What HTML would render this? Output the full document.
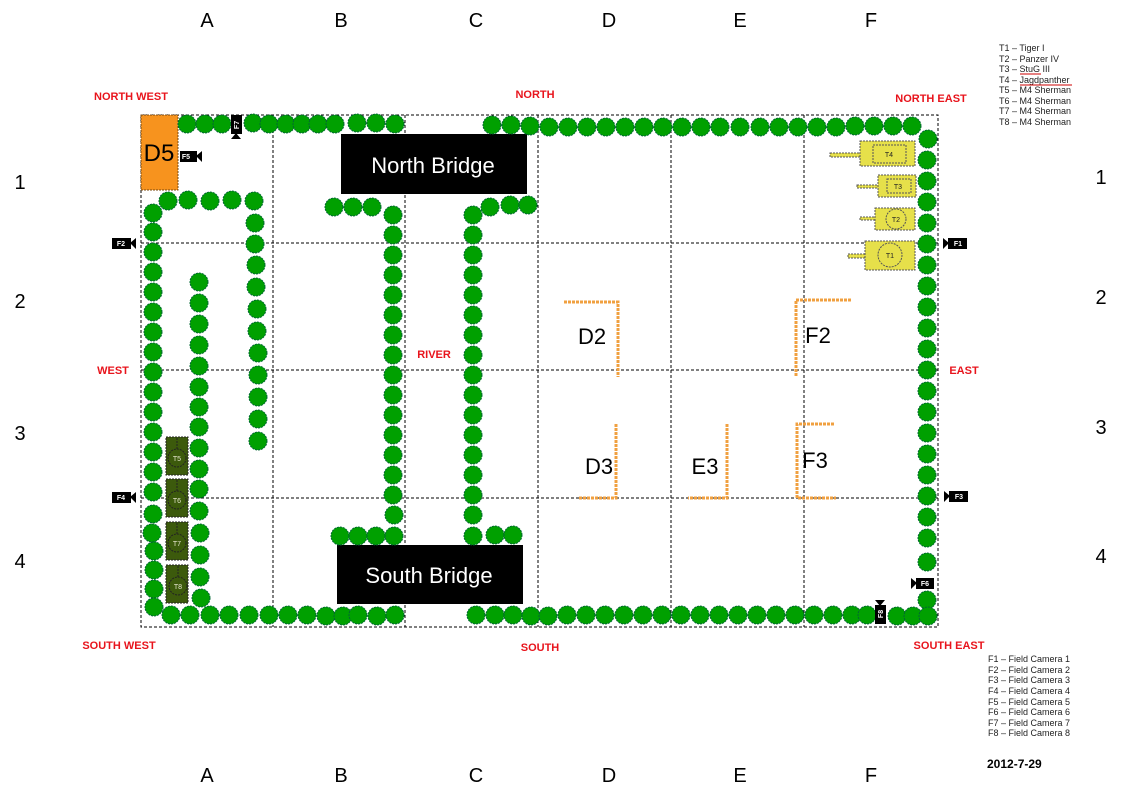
<!DOCTYPE html>
<html><head><meta charset="utf-8"><style>
html,body{margin:0;padding:0;background:#fff;}
svg{display:block;font-family:"Liberation Sans",sans-serif;}
.t{fill:#00a000;stroke:#063;stroke-width:1;stroke-dasharray:2 1;}
.g{stroke:#000;stroke-width:1;stroke-dasharray:3 2;fill:none;}
.r{fill:#e8141c;font-size:11px;font-weight:bold;text-anchor:middle;}
.w{stroke:#f0a040;stroke-width:3;fill:none;stroke-dasharray:3 1;}
.lab{font-size:20px;text-anchor:middle;fill:#000;}
.cam{fill:#000;}
.ct{fill:#fff;font-size:7px;font-weight:bold;text-anchor:middle;}
.lg{font-size:9px;fill:#222;}
</style></head><body>
<svg width="1123" height="794" viewBox="0 0 1123 794" xmlns="http://www.w3.org/2000/svg">
<rect class="g" x="141" y="115" width="797" height="512"/>
<line class="g" x1="273" y1="115" x2="273" y2="627"/>
<line class="g" x1="405" y1="115" x2="405" y2="627"/>
<line class="g" x1="538" y1="115" x2="538" y2="627"/>
<line class="g" x1="671" y1="115" x2="671" y2="627"/>
<line class="g" x1="804" y1="115" x2="804" y2="627"/>
<line class="g" x1="141" y1="243" x2="938" y2="243"/>
<line class="g" x1="141" y1="370" x2="938" y2="370"/>
<line class="g" x1="141" y1="498" x2="938" y2="498"/>

<g class="lab">
<text x="207" y="27">A</text><text x="341" y="27">B</text><text x="476" y="27">C</text><text x="609" y="27">D</text><text x="740" y="27">E</text><text x="871" y="27">F</text>
<text x="207" y="782">A</text><text x="341" y="782">B</text><text x="476" y="782">C</text><text x="609" y="782">D</text><text x="740" y="782">E</text><text x="871" y="782">F</text>
<text x="20" y="189">1</text><text x="20" y="308">2</text><text x="20" y="440">3</text><text x="20" y="568">4</text>
<text x="1101" y="184">1</text><text x="1101" y="304">2</text><text x="1101" y="434">3</text><text x="1101" y="563">4</text>
</g>

<text class="r" x="131" y="100">NORTH WEST</text>
<text class="r" x="535" y="98">NORTH</text>
<text class="r" x="931" y="102">NORTH EAST</text>
<text class="r" x="113" y="374">WEST</text>
<text class="r" x="434" y="358">RIVER</text>
<text class="r" x="964" y="374">EAST</text>
<text class="r" x="119" y="649">SOUTH WEST</text>
<text class="r" x="540" y="651">SOUTH</text>
<text class="r" x="949" y="649">SOUTH EAST</text>

<rect x="141" y="115" width="37" height="75" fill="#f7931e" stroke="#7a4a10" stroke-dasharray="2 1"/>
<text x="159" y="161" font-size="24" text-anchor="middle">D5</text>

<rect x="341" y="134" width="186" height="60" fill="#000"/>
<text x="433" y="173" fill="#fff" font-size="22" text-anchor="middle">North Bridge</text>
<rect x="337" y="545" width="186" height="59" fill="#000"/>
<text x="429" y="583" fill="#fff" font-size="22" text-anchor="middle">South Bridge</text>

<g class="t">
<circle cx="187" cy="124" r="9"/><circle cx="205" cy="124" r="9"/><circle cx="222" cy="124" r="9"/>
<circle cx="253" cy="123" r="9"/><circle cx="269" cy="124" r="9"/><circle cx="286" cy="124" r="9"/><circle cx="302" cy="124" r="9"/><circle cx="318" cy="124" r="9"/><circle cx="335" cy="124" r="9"/><circle cx="357" cy="123" r="9"/><circle cx="376" cy="123" r="9"/><circle cx="395" cy="124" r="9"/>
<circle cx="492" cy="125" r="9"/><circle cx="511" cy="125" r="9"/><circle cx="530" cy="126" r="9"/><circle cx="549" cy="127" r="9"/><circle cx="568" cy="127" r="9"/><circle cx="587" cy="127" r="9"/><circle cx="606" cy="127" r="9"/><circle cx="625" cy="127" r="9"/><circle cx="644" cy="127" r="9"/><circle cx="663" cy="127" r="9"/><circle cx="682" cy="127" r="9"/><circle cx="701" cy="127" r="9"/><circle cx="720" cy="127" r="9"/><circle cx="740" cy="127" r="9"/><circle cx="760" cy="127" r="9"/><circle cx="779" cy="127" r="9"/><circle cx="798" cy="127" r="9"/><circle cx="817" cy="127" r="9"/><circle cx="836" cy="127" r="9"/><circle cx="855" cy="126" r="9"/><circle cx="874" cy="126" r="9"/><circle cx="893" cy="126" r="9"/><circle cx="912" cy="126" r="9"/>
<circle cx="928" cy="139" r="9"/><circle cx="927" cy="160" r="9"/><circle cx="927" cy="181" r="9"/><circle cx="927" cy="202" r="9"/><circle cx="927" cy="223" r="9"/><circle cx="927" cy="244" r="9"/><circle cx="927" cy="265" r="9"/><circle cx="927" cy="286" r="9"/><circle cx="927" cy="307" r="9"/><circle cx="927" cy="328" r="9"/><circle cx="927" cy="349" r="9"/><circle cx="927" cy="370" r="9"/><circle cx="927" cy="391" r="9"/><circle cx="927" cy="412" r="9"/><circle cx="927" cy="433" r="9"/><circle cx="927" cy="454" r="9"/><circle cx="927" cy="475" r="9"/><circle cx="927" cy="496" r="9"/><circle cx="927" cy="517" r="9"/><circle cx="927" cy="538" r="9"/><circle cx="927" cy="562" r="9"/><circle cx="927" cy="600" r="9"/>
<circle cx="171" cy="615" r="9"/><circle cx="190" cy="615" r="9"/><circle cx="210" cy="615" r="9"/><circle cx="229" cy="615" r="9"/><circle cx="249" cy="615" r="9"/><circle cx="269" cy="615" r="9"/><circle cx="288" cy="615" r="9"/><circle cx="307" cy="615" r="9"/><circle cx="326" cy="616" r="9"/><circle cx="343" cy="616" r="9"/><circle cx="358" cy="615" r="9"/><circle cx="377" cy="616" r="9"/><circle cx="395" cy="615" r="9"/>
<circle cx="476" cy="615" r="9"/><circle cx="495" cy="615" r="9"/><circle cx="513" cy="615" r="9"/><circle cx="531" cy="616" r="9"/><circle cx="548" cy="616" r="9"/><circle cx="567" cy="615" r="9"/><circle cx="586" cy="615" r="9"/><circle cx="605" cy="615" r="9"/><circle cx="624" cy="615" r="9"/><circle cx="643" cy="615" r="9"/><circle cx="662" cy="615" r="9"/><circle cx="681" cy="615" r="9"/><circle cx="700" cy="615" r="9"/><circle cx="719" cy="615" r="9"/><circle cx="738" cy="615" r="9"/><circle cx="757" cy="615" r="9"/><circle cx="776" cy="615" r="9"/><circle cx="795" cy="615" r="9"/><circle cx="814" cy="615" r="9"/><circle cx="833" cy="615" r="9"/><circle cx="852" cy="615" r="9"/><circle cx="867" cy="615" r="9"/><circle cx="897" cy="616" r="9"/><circle cx="913" cy="616" r="9"/><circle cx="928" cy="616" r="9"/>
<circle cx="153" cy="213" r="9"/><circle cx="153" cy="232" r="9"/><circle cx="153" cy="252" r="9"/><circle cx="153" cy="272" r="9"/><circle cx="153" cy="292" r="9"/><circle cx="153" cy="312" r="9"/><circle cx="153" cy="332" r="9"/><circle cx="153" cy="352" r="9"/><circle cx="153" cy="372" r="9"/><circle cx="153" cy="392" r="9"/><circle cx="153" cy="412" r="9"/><circle cx="153" cy="432" r="9"/><circle cx="153" cy="452" r="9"/><circle cx="153" cy="472" r="9"/><circle cx="153" cy="492" r="9"/><circle cx="153" cy="514" r="9"/><circle cx="152" cy="533" r="9"/><circle cx="154" cy="551" r="9"/><circle cx="154" cy="570" r="9"/><circle cx="154" cy="589" r="9"/><circle cx="154" cy="607" r="9"/>
<circle cx="168" cy="201" r="9"/><circle cx="188" cy="200" r="9"/><circle cx="210" cy="201" r="9"/><circle cx="232" cy="200" r="9"/>
<circle cx="254" cy="201" r="9"/><circle cx="255" cy="223" r="9"/><circle cx="255" cy="244" r="9"/><circle cx="256" cy="265" r="9"/><circle cx="256" cy="287" r="9"/><circle cx="257" cy="309" r="9"/><circle cx="257" cy="331" r="9"/><circle cx="258" cy="353" r="9"/><circle cx="258" cy="375" r="9"/><circle cx="258" cy="397" r="9"/><circle cx="258" cy="419" r="9"/><circle cx="258" cy="441" r="9"/>
<circle cx="199" cy="282" r="9"/><circle cx="199" cy="303" r="9"/><circle cx="199" cy="324" r="9"/><circle cx="199" cy="345" r="9"/><circle cx="199" cy="366" r="9"/><circle cx="199" cy="387" r="9"/><circle cx="199" cy="407" r="9"/><circle cx="199" cy="427" r="9"/><circle cx="199" cy="448" r="9"/><circle cx="199" cy="469" r="9"/><circle cx="199" cy="489" r="9"/><circle cx="199" cy="511" r="9"/><circle cx="200" cy="533" r="9"/><circle cx="200" cy="555" r="9"/><circle cx="200" cy="577" r="9"/><circle cx="201" cy="598" r="9"/>
<circle cx="334" cy="207" r="9"/><circle cx="353" cy="207" r="9"/><circle cx="372" cy="207" r="9"/>
<circle cx="393" cy="215" r="9"/><circle cx="393" cy="235" r="9"/><circle cx="393" cy="255" r="9"/><circle cx="393" cy="275" r="9"/><circle cx="393" cy="295" r="9"/><circle cx="393" cy="315" r="9"/><circle cx="393" cy="335" r="9"/><circle cx="393" cy="355" r="9"/><circle cx="393" cy="375" r="9"/><circle cx="393" cy="395" r="9"/><circle cx="393" cy="415" r="9"/><circle cx="393" cy="435" r="9"/><circle cx="393" cy="455" r="9"/><circle cx="393" cy="475" r="9"/><circle cx="393" cy="495" r="9"/><circle cx="394" cy="515" r="9"/><circle cx="394" cy="536" r="9"/>
<circle cx="340" cy="536" r="9"/><circle cx="358" cy="536" r="9"/><circle cx="376" cy="536" r="9"/>
<circle cx="490" cy="207" r="9"/><circle cx="510" cy="205" r="9"/><circle cx="528" cy="205" r="9"/>
<circle cx="473" cy="215" r="9"/><circle cx="473" cy="235" r="9"/><circle cx="473" cy="255" r="9"/><circle cx="473" cy="275" r="9"/><circle cx="473" cy="295" r="9"/><circle cx="473" cy="315" r="9"/><circle cx="473" cy="335" r="9"/><circle cx="473" cy="355" r="9"/><circle cx="473" cy="375" r="9"/><circle cx="473" cy="395" r="9"/><circle cx="473" cy="415" r="9"/><circle cx="473" cy="435" r="9"/><circle cx="473" cy="455" r="9"/><circle cx="473" cy="475" r="9"/><circle cx="473" cy="495" r="9"/><circle cx="473" cy="515" r="9"/><circle cx="473" cy="536" r="9"/>
<circle cx="495" cy="535" r="9"/><circle cx="513" cy="535" r="9"/>
</g>

<g class="w">
<polyline points="564,302 618,302 618,377"/>
<polyline points="851,300 796,300 796,376"/>
<polyline points="616,424 616,498 578,498"/>
<polyline points="727,424 727,498 688,498"/>
<polyline points="834,424 797,424 797,498 836,498"/>
</g>
<g font-size="22" text-anchor="middle">
<text x="592" y="344">D2</text><text x="818" y="343">F2</text>
<text x="599" y="474">D3</text><text x="705" y="474">E3</text><text x="815" y="468">F3</text>
</g>

<g fill="#e6e04a" stroke="#555" stroke-dasharray="2 1" stroke-width="1">
<rect x="830" y="153" width="31" height="4"/>
<rect x="860" y="141" width="55" height="25"/>
<rect x="873" y="145" width="33" height="18" fill="none"/>
<rect x="857" y="185" width="22" height="3"/>
<rect x="878" y="175" width="38" height="22"/>
<rect x="887" y="179" width="24" height="14" fill="none"/>
<rect x="860" y="217" width="18" height="3"/>
<rect x="875" y="208" width="40" height="22"/>
<circle cx="896" cy="219" r="10" fill="none"/>
<rect x="848" y="254" width="20" height="4"/>
<rect x="865" y="241" width="50" height="29"/>
<circle cx="890" cy="255" r="12" fill="none"/>
</g>
<g font-size="7" text-anchor="middle" fill="#222">
<text x="889" y="157">T4</text><text x="898" y="189">T3</text><text x="896" y="222">T2</text><text x="890" y="258">T1</text>
</g>

<g fill="#3c5a0c" stroke="#222" stroke-dasharray="2 1">
<rect x="166" y="437" width="22" height="38"/><rect x="166" y="479" width="22" height="38"/>
<rect x="166" y="522" width="22" height="38"/><rect x="166" y="565" width="22" height="38"/>
<circle cx="177" cy="458" r="9" fill="none"/><circle cx="177" cy="500" r="9" fill="none"/>
<circle cx="177" cy="543" r="9" fill="none"/><circle cx="178" cy="586" r="9" fill="none"/>
<line x1="177" y1="438" x2="177" y2="449"/><line x1="177" y1="480" x2="177" y2="491"/>
<line x1="177" y1="523" x2="177" y2="534"/><line x1="178" y1="566" x2="178" y2="577"/>
</g>
<g font-size="7" text-anchor="middle" fill="#e8e8d0">
<text x="177" y="461">T5</text><text x="177" y="503">T6</text><text x="177" y="546">T7</text><text x="178" y="589">T8</text>
</g>

<g class="cam">
<rect x="948" y="238" width="19" height="11"/><polygon points="949,243 943,238 943,249"/>
<rect x="112" y="238" width="19" height="11"/><polygon points="130,243 136,238 136,249"/>
<rect x="949" y="491" width="19" height="11"/><polygon points="950,496 944,491 944,502"/>
<rect x="112" y="492" width="19" height="11"/><polygon points="130,497 136,492 136,503"/>
<rect x="180" y="151" width="17" height="11"/><polygon points="196,156 202,151 202,162"/>
<rect x="916" y="578" width="18" height="11"/><polygon points="917,583 911,578 911,589"/>
<rect x="231" y="115" width="11" height="19"/><polygon points="236,133 231,139 241,139"/>
<rect x="875" y="605" width="11" height="19"/><polygon points="880,606 875,600 885,600"/>
</g>
<g class="ct">
<text x="958" y="246">F1</text><text x="121" y="246">F2</text><text x="959" y="499">F3</text><text x="121" y="500">F4</text>
<text x="186" y="159">F5</text><text x="925" y="586">F6</text>
<text transform="translate(239,125) rotate(-90)">F7</text>
<text transform="translate(883,614) rotate(-90)">F8</text>
</g>

<g class="lg">
<text x="999" y="51">T1 – Tiger I</text>
<text x="999" y="62">T2 – Panzer IV</text>
<text x="999" y="72">T3 – StuG III</text>
<text x="999" y="83">T4 – Jagdpanther</text>
<text x="999" y="93">T5 – M4 Sherman</text>
<text x="999" y="104">T6 – M4 Sherman</text>
<text x="999" y="114">T7 – M4 Sherman</text>
<text x="999" y="125">T8 – M4 Sherman</text>
<text x="988" y="662">F1 – Field Camera 1</text>
<text x="988" y="673">F2 – Field Camera 2</text>
<text x="988" y="683">F3 – Field Camera 3</text>
<text x="988" y="694">F4 – Field Camera 4</text>
<text x="988" y="705">F5 – Field Camera 5</text>
<text x="988" y="715">F6 – Field Camera 6</text>
<text x="988" y="726">F7 – Field Camera 7</text>
<text x="988" y="736">F8 – Field Camera 8</text>
</g>
<line x1="1020" y1="74" x2="1041" y2="74" stroke="#c00" stroke-width="1"/>
<line x1="1020" y1="85" x2="1072" y2="85" stroke="#c00" stroke-width="1"/>
<text x="987" y="768" font-size="12" font-weight="bold">2012-7-29</text>
</svg>
</body></html>
